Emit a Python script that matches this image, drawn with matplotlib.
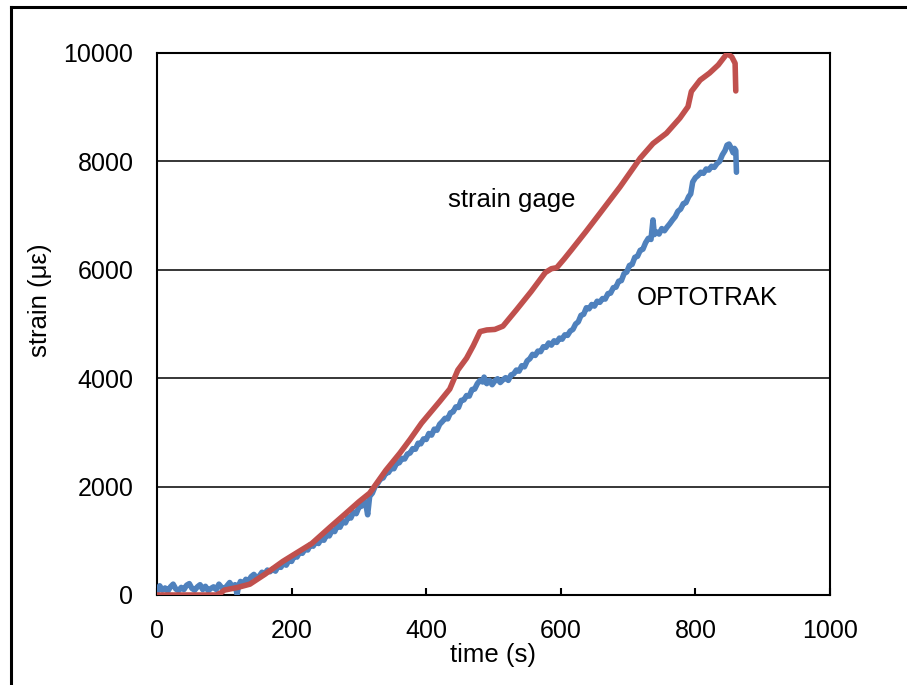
import matplotlib
matplotlib.use("Agg")
import matplotlib.pyplot as plt
from matplotlib.lines import Line2D

plt.rcParams["font.family"] = ["Liberation Sans", "DejaVu Sans"]

# strain gage record (time in s, strain in microstrain)
gage_t = [0, 88, 95, 100, 120, 138, 160, 187, 200, 230, 257, 280, 300, 316,
          340, 361, 376, 393, 420, 435, 447, 460, 470, 480, 490, 502, 514,
          534, 556, 577, 586, 594, 605, 616, 637, 658, 688, 718, 737, 757,
          777, 789, 794, 807, 821, 834, 847, 854, 859, 860]
gage_strain = [0, 0, 40, 90, 140, 200, 380, 620, 720, 950, 1250, 1500, 1720,
               1880, 2300, 2620, 2870, 3170, 3570, 3800, 4150, 4370, 4600,
               4860, 4890, 4900, 4960, 5260, 5600, 5950, 6020, 6040, 6200,
               6370, 6700, 7040, 7530, 8060, 8330, 8520, 8800, 9010, 9290,
               9500, 9630, 9780, 9990, 9930, 9810, 9300]

# OPTOTRAK record (time in s, strain in microstrain)
opto_t = [0, 4, 8, 12, 16, 20, 24, 28, 32, 36, 40, 44, 48, 52, 56, 60, 64,
          68, 72, 76, 80, 84, 88, 92, 96, 100, 104, 108, 112, 116, 119, 121,
          124, 128, 132, 136, 140, 144, 148, 152, 156, 160, 164, 168, 172,
          176, 180, 184, 188, 192, 196, 200, 204, 208, 212, 216, 220, 224,
          228, 232, 236, 240, 244, 248, 252, 256, 260, 264, 268, 272, 276,
          280, 284, 288, 292, 296, 300, 304, 308, 310, 313, 316, 320, 324,
          328, 332, 336, 340, 344, 348, 352, 356, 360, 364, 368, 372, 376,
          380, 384, 388, 392, 396, 400, 404, 408, 412, 416, 420, 424, 428,
          432, 436, 440, 444, 448, 452, 456, 460, 464, 468, 472, 476, 480,
          484, 486, 490, 494, 498, 502, 506, 510, 514, 518, 522, 526, 530,
          534, 538, 542, 546, 550, 554, 558, 562, 566, 570, 574, 578, 582,
          586, 590, 594, 598, 602, 606, 610, 614, 618, 622, 626, 630, 634,
          638, 642, 646, 650, 654, 658, 662, 666, 670, 674, 678, 682, 686,
          690, 694, 698, 702, 706, 710, 714, 718, 722, 726, 730, 734, 737,
          739, 742, 746, 750, 754, 758, 762, 766, 770, 774, 778, 782, 786,
          790, 793, 796, 800, 804, 808, 812, 816, 820, 824, 828, 832, 836,
          840, 844, 847, 850, 853, 856, 858, 860, 861]
opto_strain = [60, 170, 90, 130, 70, 150, 200, 110, 80, 140, 100, 180, 210,
               120, 90, 150, 190, 100, 160, 80, 120, 150, 100, 200, 140, 110,
               170, 230, 150, 190, 10, 160,
               250, 200, 290, 260, 340, 380, 310, 350, 420, 390, 460, 430,
               480, 440, 530, 510, 590, 550, 640, 620, 720, 700, 790, 770,
               850, 830, 930, 900, 980, 950, 1040, 1010, 1110, 1090, 1190,
               1170, 1280, 1250, 1360, 1330, 1440, 1420, 1530, 1500, 1620,
               1640, 1730, 1700, 1480, 1820, 1880, 2000, 2060, 2140, 2160,
               2250, 2260, 2340, 2330, 2430, 2440, 2520, 2510, 2600, 2620,
               2700, 2690, 2800, 2790, 2880, 2870, 2980, 2950, 3060, 3040,
               3150, 3200, 3260, 3250, 3360, 3380, 3470, 3460, 3590, 3600,
               3680, 3670, 3790, 3800, 3900, 3960, 3930, 4020, 3900, 3960,
               3880, 3950, 3990, 3920, 3970, 4010, 3960, 4060, 4080, 4150,
               4130, 4230, 4210, 4320, 4360, 4440, 4420, 4500, 4490, 4580,
               4570, 4650, 4610, 4690, 4660, 4740, 4720, 4800, 4790, 4870,
               4900, 5000, 5040, 5160, 5180, 5300, 5280, 5360, 5330, 5420,
               5400, 5470, 5460, 5560, 5570, 5670, 5680, 5790, 5800, 5930,
               5960, 6080, 6100, 6230, 6250, 6360, 6380, 6500, 6580, 6560,
               6920, 6650, 6700, 6660, 6760, 6720, 6790, 6850, 6920, 6980,
               7080, 7120, 7220, 7240, 7350, 7400, 7620, 7700, 7740, 7800,
               7780, 7860, 7840, 7910, 7890, 7960, 8000, 8120, 8200, 8300,
               8320, 8250, 8160, 8240, 8200, 7800]

x_ticks = [0, 200, 400, 600, 800, 1000]
y_ticks = [0, 2000, 4000, 6000, 8000, 10000]

W, H = 907, 685
fig = plt.figure(figsize=(W / 100, H / 100), dpi=100)
ax = fig.add_axes([157 / W, 1 - 595 / H, (830 - 157) / W, (595 - 53) / H])

ax.plot(opto_t, opto_strain, color="#4F81BD", lw=4.0, solid_joinstyle="round",
        solid_capstyle="round", zorder=3)
ax.plot(gage_t, gage_strain, color="#C0504D", lw=4.0, solid_joinstyle="round",
        solid_capstyle="round", zorder=4)

ax.set_xlim(0, 1000)
ax.set_ylim(0, 10000)
ax.set_xticks(x_ticks)
ax.set_yticks(y_ticks)
ax.set_xticklabels([str(v) for v in x_ticks])
ax.set_yticklabels([str(v) for v in y_ticks])
ax.grid(axis="y", color="black", lw=1.1, zorder=1)
ax.set_axisbelow(True)
for s in ax.spines.values():
    s.set_linewidth(1.5)
    s.set_color("black")
ax.tick_params(axis="x", direction="in", length=5, width=1.5, pad=17,
               labelsize=18)
ax.tick_params(axis="y", direction="in", length=0, pad=17, labelsize=18)

ax.text(527, 7290, "strain gage", fontsize=18.5, ha="center", va="center")
ax.text(817, 5480, "OPTOTRAK", fontsize=18.5, ha="center", va="center")

fig.text(493 / W, 1 - 655 / H, "time (s)", fontsize=18.5, ha="center",
         va="center")
fig.text(40 / W, 1 - 300 / H, "strain (με)", fontsize=18.5, ha="center",
         va="center", rotation=90)

# outer frame edges
fig.add_artist(Line2D([11 / W, 11 / W], [0, 1 - 7 / H], color="black",
                      lw=2.2, transform=fig.transFigure))
fig.add_artist(Line2D([11 / W, 1], [1 - 7 / H, 1 - 7 / H], color="black",
                      lw=2.2, transform=fig.transFigure))

fig.savefig("out.png", dpi=100)
